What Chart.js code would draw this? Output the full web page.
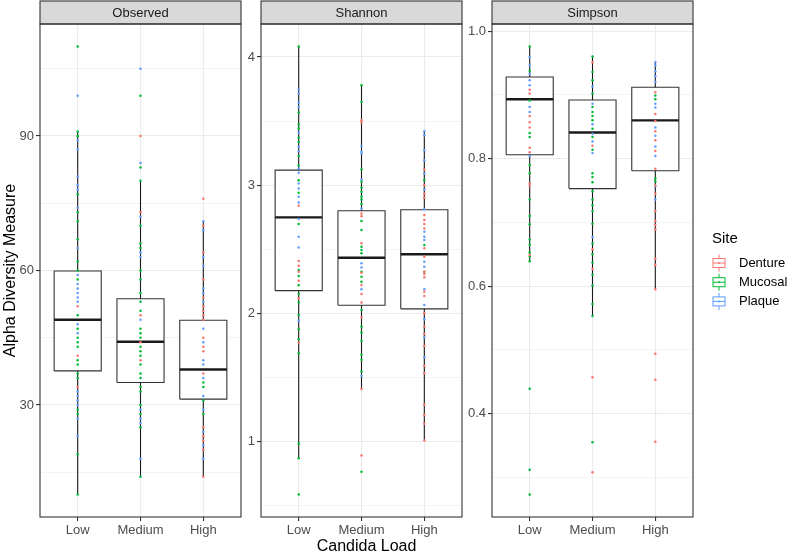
<!DOCTYPE html>
<html lang="en">
<head>
<meta charset="UTF-8">
<title>Alpha diversity by Candida load</title>
<script src="https://cdn.jsdelivr.net/npm/chart.js"></script>
<style>
  html, body { margin: 0; padding: 0; background: #fff; }
  #wrap { position: relative; width: 789px; height: 552px; }
  #wrap canvas { position: absolute; left: 0; top: 0; }
</style>
</head>
<body>
<div id="wrap">
  <canvas id="obs" width="789" height="552"></canvas>
  <canvas id="sha" width="789" height="552"></canvas>
  <canvas id="sim" width="789" height="552"></canvas>
</div>
<script>
const FONT = '"Liberation Sans", Arial, sans-serif';

const categories = ['Low', 'Medium', 'High'];
const sites = ['Denture', 'Mucosal', 'Plaque'];
const siteColors = ['#F8766D', '#00BA38', '#619CFF'];

// ---- Observed ----
const obsLowDenture = [52, 41, 34];
const obsLowMucosal = [110, 91, 90, 90, 77, 73, 71, 67, 62, 60, 58, 50, 47, 45, 44, 43, 40, 39, 37, 36, 29, 28, 19, 10];
const obsLowPlaque = [99, 89, 87, 81, 79, 78, 74, 65, 59, 57, 56, 55, 54, 53, 48, 46, 33, 32, 31, 30, 27, 23];
const obsMediumDenture = [90, 73, 50, 44, 40];
const obsMediumMucosal = [99, 83, 80, 70, 66, 65, 60, 58, 55, 53, 51, 47, 46, 45, 43, 42, 41, 39, 37, 36, 34, 33, 30, 28, 25, 14];
const obsMediumPlaque = [105, 84, 72, 64, 63, 49, 29, 27, 26, 18];
const obsHighDenture = [76, 70, 64, 58, 54, 52, 51, 50, 49, 45, 43, 42, 37, 25, 23, 22, 20, 14];
const obsHighMucosal = [35, 34, 31, 28];
const obsHighPlaque = [71, 69, 63, 61, 56, 55, 53, 47, 44, 40, 39, 36, 32, 29, 24, 21, 18];
const obsLower = [10, 14, 14];
const obsQ1 = [37.6, 35, 31.3];
const obsMedian = [49, 44.1, 37.9];
const obsQ3 = [59.9, 53.7, 48.9];
const obsUpper = [91, 80, 71];
const obsTicks = [30, 60, 90];
const obsTickLabels = ['30', '60', '90'];

// ---- Shannon ----
const shaLowDenture = [2.839, 2.408, 2.371, 2.324, 2.254, 2.114, 1.771];
const shaLowMucosal = [4.083, 3.567, 3.473, 3.442, 3.372, 3.337, 3.228, 3.156, 3.039, 2.94, 2.696, 2.337, 2.291, 2.218, 2.15, 2.083, 1.987, 1.875, 1.797, 1.688, 0.982, 0.868, 0.584];
const shaLowPlaque = [3.746, 3.715, 3.645, 3.61, 3.408, 3.299, 3.265, 3.13, 3.096, 3.013, 2.974, 2.909, 2.865, 2.735, 2.597, 2.514, 1.942];
const shaMediumDenture = [3.507, 3.489, 2.779, 2.758, 2.546, 2.316, 2.221, 2.15, 2.083, 1.966, 1.408, 0.89];
const shaMediumMucosal = [3.779, 3.649, 3.122, 3.026, 2.982, 2.948, 2.909, 2.888, 2.852, 2.719, 2.649, 2.519, 2.493, 2.468, 2.324, 2.285, 2.246, 2.026, 1.896, 1.849, 1.786, 1.675, 1.636, 1.545, 0.763];
const shaMediumPlaque = [3.306, 3.26, 3.247, 3.044, 2.818, 2.39, 2.356, 2.187, 1.511];
const shaHighDenture = [3.122, 3.0, 2.935, 2.901, 2.766, 2.727, 2.696, 2.662, 2.507, 2.441, 2.324, 2.306, 2.28, 2.168, 2.135, 2.0, 1.896, 1.839, 1.745, 1.589, 1.532, 1.285, 1.205, 1.137, 1.007];
const shaHighMucosal = [3.039, 2.532, 2.324];
const shaHighPlaque = [3.421, 3.39, 3.273, 3.195, 3.091, 2.966, 2.811, 2.636, 2.597, 2.571, 2.402, 2.363, 2.187, 2.065, 1.953, 1.81, 1.657];
const shaLower = [0.868, 1.408, 1.007];
const shaQ1 = [2.176, 2.062, 2.034];
const shaMedian = [2.748, 2.433, 2.46];
const shaQ3 = [3.117, 2.8, 2.808];
const shaUpper = [4.083, 3.779, 3.421];
const shaTicks = [1, 2, 3, 4];
const shaTickLabels = ['1', '2', '3', '4'];

// ---- Simpson ----
const simLowDenture = [0.908, 0.902, 0.867, 0.857, 0.849, 0.817, 0.81, 0.761, 0.757, 0.649];
const simLowMucosal = [0.976, 0.938, 0.891, 0.84, 0.834, 0.79, 0.777, 0.736, 0.71, 0.697, 0.673, 0.665, 0.653, 0.646, 0.639, 0.439, 0.312, 0.273];
const simLowPlaque = [0.959, 0.946, 0.933, 0.923, 0.915, 0.881, 0.873, 0.804];
const simMediumDenture = [0.951, 0.82, 0.658, 0.627, 0.457, 0.308];
const simMediumMucosal = [0.96, 0.936, 0.923, 0.902, 0.881, 0.873, 0.867, 0.86, 0.847, 0.834, 0.814, 0.777, 0.771, 0.763, 0.749, 0.736, 0.727, 0.718, 0.698, 0.667, 0.65, 0.637, 0.618, 0.601, 0.572, 0.553, 0.355];
const simMediumPlaque = [0.913, 0.886, 0.854, 0.839, 0.827, 0.809, 0.677];
const simHighDenture = [0.904, 0.87, 0.859, 0.843, 0.829, 0.812, 0.784, 0.758, 0.745, 0.718, 0.702, 0.696, 0.689, 0.643, 0.633, 0.595, 0.494, 0.453, 0.356];
const simHighMucosal = [0.899, 0.893, 0.769, 0.764];
const simHighPlaque = [0.951, 0.946, 0.937, 0.929, 0.92, 0.886, 0.88, 0.849, 0.836, 0.819, 0.804, 0.757, 0.736];
const simLower = [0.639, 0.553, 0.595];
const simQ1 = [0.806, 0.753, 0.781];
const simMedian = [0.893, 0.841, 0.86];
const simQ3 = [0.928, 0.892, 0.912];
const simUpper = [0.976, 0.96, 0.951];
const simTicks = [0.4, 0.6, 0.8, 1.0];
const simTickLabels = ['0.4', '0.6', '0.8', '1.0'];

const facets = [
  {
    id: 'obs', title: 'Observed',
    points: [[obsLowDenture, obsMediumDenture, obsHighDenture],
             [obsLowMucosal, obsMediumMucosal, obsHighMucosal],
             [obsLowPlaque, obsMediumPlaque, obsHighPlaque]],
    lower: obsLower, q1: obsQ1, median: obsMedian, q3: obsQ3, upper: obsUpper,
    ticks: obsTicks, tickLabels: obsTickLabels,
    left: 40, right: 241, axisWidth: 40
  },
  {
    id: 'sha', title: 'Shannon',
    points: [[shaLowDenture, shaMediumDenture, shaHighDenture],
             [shaLowMucosal, shaMediumMucosal, shaHighMucosal],
             [shaLowPlaque, shaMediumPlaque, shaHighPlaque]],
    lower: shaLower, q1: shaQ1, median: shaMedian, q3: shaQ3, upper: shaUpper,
    ticks: shaTicks, tickLabels: shaTickLabels,
    left: 261, right: 462, axisWidth: 30
  },
  {
    id: 'sim', title: 'Simpson',
    points: [[simLowDenture, simMediumDenture, simHighDenture],
             [simLowMucosal, simMediumMucosal, simHighMucosal],
             [simLowPlaque, simMediumPlaque, simHighPlaque]],
    lower: simLower, q1: simQ1, median: simMedian, q3: simQ3, upper: simUpper,
    ticks: simTicks, tickLabels: simTickLabels,
    left: 492, right: 693, axisWidth: 30
  }
];

const PANEL_TOP = 24;
const PANEL_BOTTOM = 517;
const BOX_HALF = 0.375;

// strip on top of each panel plus the dark border
const facetFrame = {
  id: 'facetFrame',
  afterDraw(chart, args, opts) {
    const { ctx, chartArea: a } = chart;
    ctx.save();
    ctx.lineWidth = 1.1;
    ctx.strokeStyle = '#333333';
    ctx.fillStyle = '#D9D9D9';
    ctx.fillRect(a.left, a.top - 23, a.right - a.left, 23);
    ctx.strokeRect(a.left, a.top - 23, a.right - a.left, 23);
    ctx.strokeRect(a.left, a.top, a.right - a.left, a.bottom - a.top);
    ctx.fillStyle = '#1A1A1A';
    ctx.font = '13px ' + FONT;
    ctx.textAlign = 'center';
    ctx.textBaseline = 'middle';
    ctx.fillText(opts.text, (a.left + a.right) / 2, a.top - 11);
    ctx.restore();
  }
};

// shared x title and the Site legend
const pageDecor = {
  id: 'pageDecor',
  afterDraw(chart) {
    const ctx = chart.ctx;
    ctx.save();
    ctx.fillStyle = '#000';
    ctx.font = '16px ' + FONT;
    ctx.textAlign = 'center';
    ctx.textBaseline = 'alphabetic';
    ctx.fillText('Candida Load', (facets[0].left + facets[2].right) / 2, 550.5);

    ctx.textAlign = 'left';
    ctx.font = '15px ' + FONT;
    ctx.fillText('Site', 712, 242.5);
    ctx.font = '13px ' + FONT;
    ctx.textBaseline = 'middle';
    sites.forEach((s, i) => {
      const cx = 719, cy = 263 + i * 19.2;
      ctx.strokeStyle = siteColors[i];
      ctx.fillStyle = siteColors[i];
      ctx.lineWidth = 1;
      ctx.beginPath();
      ctx.moveTo(cx, cy - 8.5); ctx.lineTo(cx, cy - 4.5);
      ctx.moveTo(cx, cy + 4.5); ctx.lineTo(cx, cy + 8.5);
      ctx.moveTo(cx - 6, cy); ctx.lineTo(cx + 6, cy);
      ctx.stroke();
      ctx.strokeRect(cx - 6, cy - 4.5, 12, 9);
      ctx.beginPath();
      ctx.arc(cx, cy, 1, 0, Math.PI * 2);
      ctx.fill();
      ctx.fillStyle = '#000';
      ctx.fillText(s, 739, cy + 0.5);
    });
    ctx.restore();
  }
};

function near(a, b) { return Math.abs(a - b) < 1e-9; }

function buildFacet(f, idx) {
  const datasets = [];
  sites.forEach((s, si) => {
    const pts = [];
    f.points[si].forEach((vals, ci) => vals.forEach(v => pts.push({ x: ci + 1, y: v })));
    datasets.push({
      type: 'scatter', label: s, data: pts,
      backgroundColor: siteColors[si], borderWidth: 0,
      pointRadius: 1.25, order: 0
    });
  });

  categories.forEach((c, ci) => {
    const x = ci + 1;
    const lineBase = { type: 'line', pointRadius: 0, tension: 0, borderColor: '#333333', borderWidth: 1.1, fill: false, order: 1 };
    datasets.push(Object.assign({}, lineBase, {
      data: [{ x: x, y: f.lower[ci] }, { x: x, y: f.q1[ci] }], borderColor: '#1A1A1A'
    }));
    datasets.push(Object.assign({}, lineBase, {
      data: [{ x: x, y: f.q3[ci] }, { x: x, y: f.upper[ci] }], borderColor: '#1A1A1A'
    }));
    datasets.push(Object.assign({}, lineBase, {
      data: [
        { x: x - BOX_HALF, y: f.q1[ci] }, { x: x + BOX_HALF, y: f.q1[ci] },
        { x: x + BOX_HALF, y: f.q3[ci] }, { x: x - BOX_HALF, y: f.q3[ci] },
        { x: x - BOX_HALF, y: f.q1[ci] }
      ],
      fill: 'shape', backgroundColor: '#FFFFFF', order: 2
    }));
    datasets.push(Object.assign({}, lineBase, {
      data: [{ x: x - BOX_HALF, y: f.median[ci] }, { x: x + BOX_HALF, y: f.median[ci] }],
      borderColor: '#1A1A1A', borderWidth: 2.4, order: 1
    }));
  });

  // ggplot style 5% expansion of the data range
  const all = f.points.flat(2);
  const lo = Math.min(...all), hi = Math.max(...all);
  const pad = (hi - lo) * 0.05;
  const step = f.ticks[1] - f.ticks[0];
  const tickVals = [];
  for (let v = f.ticks[0] - step * 1.5; v <= hi + pad; v += step / 2) {
    if (v >= lo - pad) tickVals.push(v);
  }

  const isMajor = v => f.ticks.some(t => near(t, v));

  new Chart(document.getElementById(f.id), {
    type: 'scatter',
    data: { datasets },
    options: {
      responsive: false,
      animation: false,
      events: [],
      layout: {
        padding: { left: f.left - f.axisWidth, right: 789 - f.right, top: PANEL_TOP, bottom: 552 - PANEL_BOTTOM - 35 }
      },
      plugins: {
        legend: { display: false },
        tooltip: { enabled: false },
        facetFrame: { text: f.title },
        pageDecor: {}
      },
      scales: {
        x: {
          type: 'linear', min: 0.4, max: 3.6,
          afterBuildTicks: s => { s.ticks = categories.map((c, i) => ({ value: i + 1 })); },
          afterFit: s => { s.height = 35; },
          ticks: {
            autoSkip: false, maxRotation: 0, padding: 2,
            color: '#4D4D4D', font: { family: FONT, size: 13 },
            callback: v => categories[Math.round(v) - 1]
          },
          grid: { color: '#EBEBEB', lineWidth: 1.1, tickLength: 4, tickColor: '#333333', tickWidth: 1.1 },
          border: { display: false }
        },
        y: {
          type: 'linear', min: lo - pad, max: hi + pad,
          afterBuildTicks: s => { s.ticks = tickVals.map(v => ({ value: v, minor: !isMajor(v) })); },
          afterFit: s => { s.width = f.axisWidth; },
          ticks: {
            autoSkip: false, padding: 2,
            color: '#4D4D4D', font: { family: FONT, size: 13 },
            callback: v => {
              const k = f.ticks.findIndex(t => near(t, v));
              return k >= 0 ? f.tickLabels[k] : '';
            }
          },
          grid: {
            color: '#EBEBEB',
            lineWidth: c => (c.tick && c.tick.minor ? 0.55 : 1.1),
            tickLength: 4,
            tickColor: c => (c.tick && c.tick.minor ? 'rgba(0,0,0,0)' : '#333333'),
            tickWidth: 1.1
          },
          border: { display: false },
          title: {
            display: idx === 0,
            text: 'Alpha Diversity Measure',
            color: '#000', font: { family: FONT, size: 16 },
            padding: { top: 1, bottom: 0 }
          }
        }
      }
    },
    plugins: idx === 2 ? [facetFrame, pageDecor] : [facetFrame]
  });
}

facets.forEach(buildFacet);
</script>
</body>
</html>
